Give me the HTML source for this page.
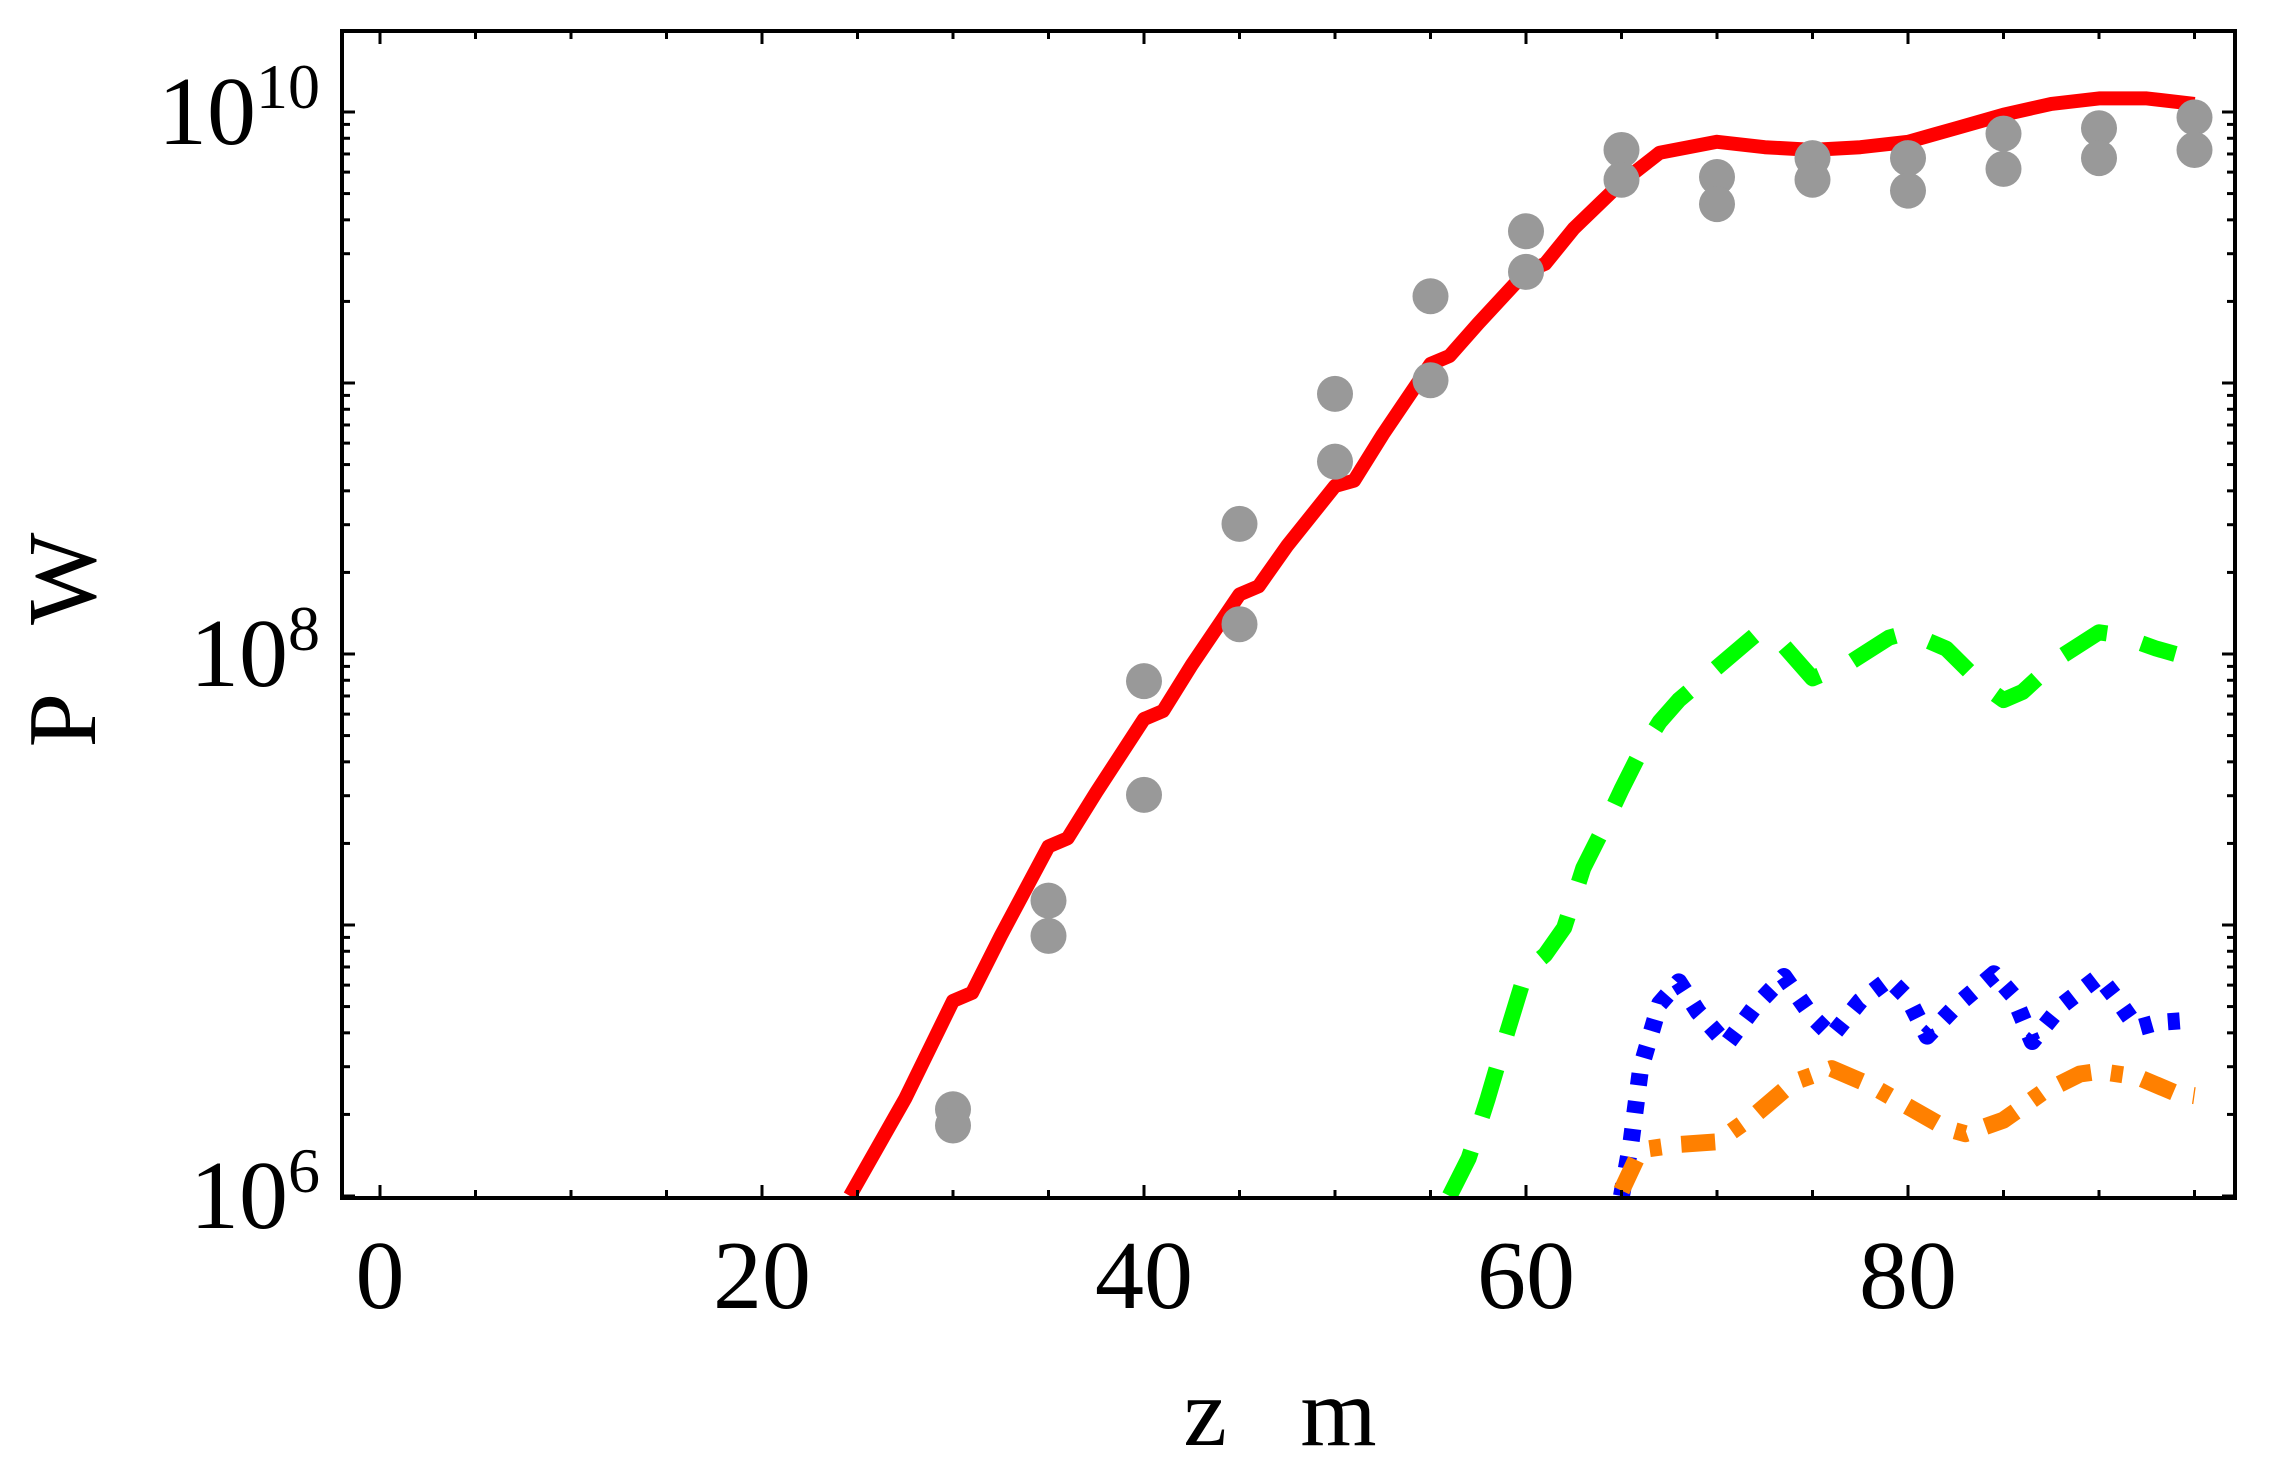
<!DOCTYPE html>
<html><head><meta charset="utf-8"><style>
html,body{margin:0;padding:0;background:#fff}
svg{display:block;font-family:"Liberation Serif",serif}
</style></head><body>
<svg id="chart" width="2270" height="1475" viewBox="0 0 2270 1475" xmlns="http://www.w3.org/2000/svg">
<defs><clipPath id="plotclip"><rect x="342" y="31" width="1893" height="1167"/></clipPath></defs>
<g id="series" clip-path="url(#plotclip)"></g>
<rect x="342" y="31" width="1893" height="1167" fill="none" stroke="#000" stroke-width="4"/>
<g id="ticks"></g>
<text transform="translate(95,640) rotate(-90)" font-size="98" text-anchor="middle" xml:space="preserve">P   W</text>
<text x="1280" y="1445" font-size="98" text-anchor="middle" xml:space="preserve">z   m</text>
</svg>
<script>
const xTicks=[0,20,40,60,80];
const yDecades=[6,8,10];
const redZ=[24.6,27.5,30,31,32.5,35,36,37.5,40,41,42.5,45,46,47.5,50,51,52.5,55,56,57.5,60,61,62.5,65,67,70,72.5,75,77.5,80,82.5,85,87.5,90,92.5,95];
const redLogP=[6.0,6.36,6.72,6.75,6.96,7.29,7.32,7.49,7.76,7.79,7.96,8.22,8.25,8.40,8.62,8.64,8.81,9.07,9.10,9.22,9.41,9.44,9.57,9.74,9.85,9.89,9.87,9.86,9.87,9.89,9.94,9.99,10.03,10.05,10.05,10.03];
const dotZ=[30,35,40,45,50,55,60,65,70,75,80,85,90,95];
const dotLogHigh=[6.32,7.09,7.90,8.48,8.96,9.32,9.56,9.86,9.76,9.83,9.83,9.92,9.94,9.98];
const dotLogLow=[6.26,6.96,7.48,8.11,8.71,9.01,9.41,9.75,9.66,9.75,9.71,9.79,9.83,9.86];
const greenZ=[56,57,58,59,60,61,62,63,64,65,66,67,68,70,72,73,75,77,79,80,82,84,85,86,88,90,91,93,94];
const greenLogP=[6.0,6.14,6.36,6.6,6.83,6.89,6.99,7.21,7.35,7.5,7.64,7.75,7.83,7.95,8.07,8.07,7.91,7.97,8.06,8.08,8.02,7.88,7.83,7.86,7.99,8.08,8.07,8.02,8.0];
const blueZ=[65,65.5,66,67,68,69,70.5,72,73.5,75,76,77.5,79,80,81,82.5,84.5,85.5,86.5,88,90,91,92,93,95];
const blueLogP=[6.0,6.20,6.47,6.71,6.79,6.68,6.56,6.70,6.81,6.66,6.59,6.72,6.80,6.73,6.59,6.70,6.82,6.74,6.57,6.70,6.81,6.72,6.62,6.64,6.65];
const orangeZ=[65,66,67,68,70,72,74,76,78,80,82,83,85,87,89,90,92,94,95];
const orangeLogP=[6.02,6.17,6.18,6.19,6.20,6.30,6.42,6.47,6.41,6.33,6.25,6.23,6.28,6.38,6.45,6.46,6.44,6.38,6.37];

const NS='http://www.w3.org/2000/svg';
function X(z){return 380+19.1*z;}
function Y(lp){return 1196-271*(lp-6);}
function mk(tag,attrs,parent){const e=document.createElementNS(NS,tag);for(const k in attrs)e.setAttribute(k,attrs[k]);parent.appendChild(e);return e;}
const series=document.getElementById('series');
const ticks=document.getElementById('ticks');
function line(zs,ls,color,w,dash,name){
  let d='';zs.forEach((z,i)=>{d+=(i?'L':'M')+X(z).toFixed(1)+' '+Y(ls[i]).toFixed(1);});
  const p=mk('path',{d:d,fill:'none',stroke:color,'stroke-width':w,'stroke-linejoin':'round'},series);
  if(dash)p.setAttribute('stroke-dasharray',dash);
  
  
}
line(greenZ,greenLogP,'#00ff00',16,'50 36','green-dashed-curve');
line(blueZ,blueLogP,'#0000ff',17,'12 16','blue-dotted-curve');
line(orangeZ,orangeLogP,'#ff8000',17,'34 20 12 20','orange-dotdash-curve');
line(redZ,redLogP,'#ff0000',14,null,'red-solid-curve');
dotZ.forEach((z,i)=>{
  [dotLogHigh[i],dotLogLow[i]].forEach(lp=>{
    const c=mk('circle',{cx:X(z),cy:Y(lp),r:18,fill:'#999999'},series);
    
    
  });
});
for(let v=0;v<=95;v+=5){
  const major=v%20===0, len=major?13:8;
  mk('line',{x1:X(v),x2:X(v),y1:1198,y2:1198-len,stroke:'#000','stroke-width':3},ticks);
  mk('line',{x1:X(v),x2:X(v),y1:31,y2:31+len,stroke:'#000','stroke-width':3},ticks);
}
xTicks.forEach(v=>{
  const t=mk('text',{x:X(v),y:1308,'font-size':98,'text-anchor':'middle'},ticks);
  t.textContent=v;
  
  
});
for(let dec=6;dec<=10;dec++){
  for(let m=1;m<=9;m++){
    const lp=dec+Math.log10(m); const y=Y(lp);
    if(y<31||y>1198)continue;
    const len=m===1?13:8;
    mk('line',{x1:342,x2:342+len,y1:y,y2:y,stroke:'#000','stroke-width':3},ticks);
    mk('line',{x1:2235,x2:2235-len,y1:y,y2:y,stroke:'#000','stroke-width':3},ticks);
  }
}
yDecades.forEach(d=>{
  const t=mk('text',{x:320,y:Y(d)+32,'font-size':98,'text-anchor':'end'},ticks);
  
  
  const a=mk('tspan',{},t);a.textContent='10';
  const b=mk('tspan',{dy:-36,'font-size':64},t);b.textContent=d;
});
</script>
</body></html>
